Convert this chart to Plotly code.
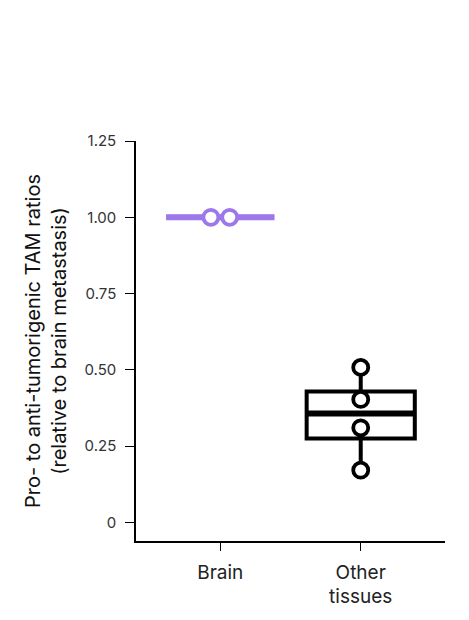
import numpy as np
import plotly.graph_objects as go

# values (relative to brain metastasis)
groups = ["Brain", "Other tissues"]
tick_text = ["Brain", "Other<br>tissues"]
brain_vals = [1.0, 1.0]
other_vals = [0.171, 0.31, 0.403, 0.508]
colors = ["#9d78eb", "#000000"]

y_ticks = [0, 0.25, 0.5, 0.75, 1.0, 1.25]
y_ticktext = ["0", "0.25", "0.50", "0.75", "1.00", "1.25"]

# page body has an 8px margin, so the figure is made 8px smaller
W, H = 461, 612
ml, mr, mt, mb = 128, 24, 133, 77
xr = [-0.6, 1.6]
box_w = 0.77
mk_size, mk_line = 15, 3.8

px_per_unit = (W - ml - mr) / (xr[1] - xr[0])
step = (mk_size + mk_line) / px_per_unit


def dodge(vals, pos):
    # spread identical values side by side
    xs = []
    vals = list(vals)
    for i, v in enumerate(vals):
        same = [j for j, w in enumerate(vals) if w == v]
        k = same.index(i)
        xs.append(pos + (k - (len(same) - 1) / 2) * step)
    return xs


fig = go.Figure()

for i, (vals, col) in enumerate(zip([brain_vals, other_vals], colors)):
    q1, med, q3 = np.percentile(vals, [25, 50, 75])
    fig.add_trace(go.Box(
        x=[i], q1=[q1], median=[med], q3=[q3],
        lowerfence=[min(vals)], upperfence=[max(vals)], width=box_w,
        whiskerwidth=0, line=dict(color=col, width=4 if i else 5),
        fillcolor="rgba(255,255,255,0)", showlegend=False, hoverinfo="skip",
    ))
    fig.add_trace(go.Scatter(
        x=[i - box_w / 2, i + box_w / 2], y=[med, med], mode="lines",
        line=dict(color=col, width=6), showlegend=False, hoverinfo="skip",
    ))
    fig.add_trace(go.Scatter(
        x=dodge(vals, i), y=vals, mode="markers",
        marker=dict(symbol="circle", size=mk_size, color="white",
                    line=dict(color=col, width=mk_line)),
        showlegend=False,
    ))

fig.update_layout(
    width=W, height=H,
    margin=dict(l=ml, r=mr, t=mt, b=mb),
    plot_bgcolor="white", paper_bgcolor="white",
    font=dict(family="Inter, Roboto, sans-serif", color="#222"),
    xaxis=dict(
        range=xr, tickvals=[0, 1], ticktext=tick_text,
        showline=True, linecolor="black", linewidth=1.5,
        ticks="outside", ticklen=8, tickcolor="black", tickwidth=1,
        ticklabelstandoff=5,
        tickfont=dict(size=19), showgrid=False, zeroline=False,
    ),
    yaxis=dict(
        range=[-0.061, 1.25], tickvals=y_ticks, ticktext=y_ticktext,
        showline=True, linecolor="black", linewidth=1.5,
        ticks="outside", ticklen=9, tickcolor="black", tickwidth=1,
        ticklabelstandoff=6,
        tickfont=dict(size=15, color="#333"), showgrid=False, zeroline=False,
        title=dict(text="Pro- to anti-tumorigenic TAM ratios<br>(relative to brain metastasis)",
                   font=dict(size=20, color="#111"), standoff=12),
    ),
)

fig.write_html("out.html")
